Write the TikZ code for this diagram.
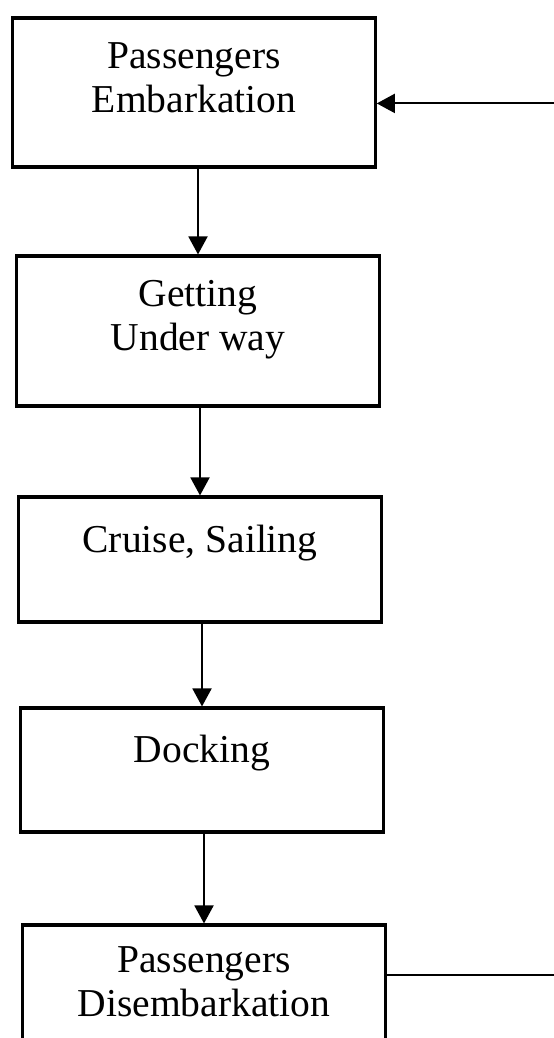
\documentclass[tikz,border=0pt]{standalone}
\usepackage{fontspec}
\setmainfont{Liberation Serif}
\usetikzlibrary{arrows.meta,positioning}
\tikzset{
  >={Triangle[length=0.36cm,width=0.38cm]},
  stage/.style={draw, rectangle, line width=1.8pt, minimum width=7.25cm, inner sep=0pt},
  caption/.style={align=center, inner sep=0pt, font=\fontsize{22.5}{25}\selectfont},
  flow/.style={line width=1.1pt},
}
\begin{document}
\begin{tikzpicture}[x=0.02cm, y=-0.02cm]
  \useasboundingbox (0,0) rectangle (554,1038);
  \clip (0,0) rectangle (554,1038);
  % the five stages of a voyage
  \node[stage, minimum height=2.98cm] (embark) at (194,92.5) {};
  \node[stage, minimum height=3cm] (underway) at (198,331) {};
  \node[stage, minimum height=2.5cm] (cruise) at (200,559.5) {};
  \node[stage, minimum height=2.48cm] (docking) at (202,770) {};
  \node[stage, minimum height=3cm] (disembark) at (204,1000) {};
  \node[caption, below=0.51cm of embark.north] (embarktext) {Passengers\\Embarkation};
  \node[caption, below=0.51cm of underway.north] (underwaytext) {Getting\\Under way};
  \node[caption, below=0.58cm of cruise.north] (cruisetext) {Cruise, Sailing};
  \node[caption, below=0.57cm of docking.north] (dockingtext) {Docking};
  \node[caption, below=0.46cm of disembark.north] (disembarktext) {Passengers\\Disembarkation};
  \draw[flow, ->] (underway.north |- embark.south) -- (underway.north);
  \draw[flow, ->] (cruise.north |- underway.south) -- (cruise.north);
  \draw[flow, ->] (docking.north |- cruise.south) -- (docking.north);
  \draw[flow, ->] (disembark.north |- docking.south) -- (disembark.north);
  % back to the start
  \draw[flow, ->] ([yshift=-1.04cm]disembark.north east) -- ++(3.4cm,0)
    |- ([yshift=-1.74cm]embark.north east);
\end{tikzpicture}
\end{document}
